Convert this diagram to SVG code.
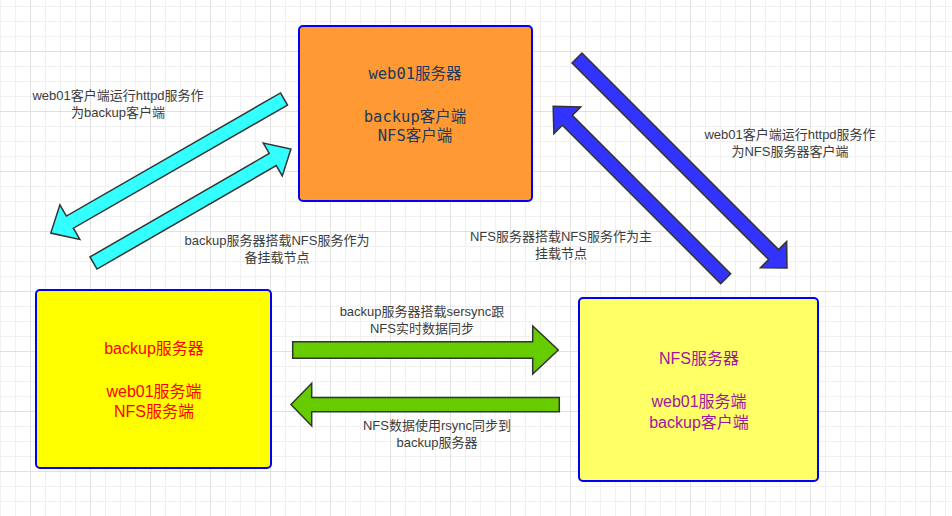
<svg xmlns="http://www.w3.org/2000/svg" width="952" height="516" viewBox="0 0 952 516">
  <style>
    .lbl { font-family: "Liberation Sans", "Noto Sans CJK SC", sans-serif; font-size: 13px; fill: #3c3c3c; text-anchor: middle; }
    .box { stroke: #0000ff; stroke-width: 2; }
    .mono { font-family: "DejaVu Sans Mono", "Noto Sans CJK SC", monospace; font-size: 15.5px; fill: #203a5c; text-anchor: middle; }
    .sans { font-family: "Liberation Sans", "Noto Sans CJK SC", sans-serif; font-size: 16px; text-anchor: middle; }
    .arrow { stroke: #333333; stroke-width: 1.5; stroke-linejoin: miter; }
  </style>
  <defs>
    <pattern id="grid" x="30" y="51" width="60" height="60" patternUnits="userSpaceOnUse">
      <rect x="0" y="0" width="60" height="60" fill="#ffffff"/>
      <rect x="15" y="0" width="1" height="60" fill="#f0f0f0"/>
      <rect x="30" y="0" width="1" height="60" fill="#f0f0f0"/>
      <rect x="45" y="0" width="1" height="60" fill="#f0f0f0"/>
      <rect x="0" y="15" width="60" height="1" fill="#f0f0f0"/>
      <rect x="0" y="30" width="60" height="1" fill="#f0f0f0"/>
      <rect x="0" y="45" width="60" height="1" fill="#f0f0f0"/>
      <rect x="0" y="0" width="1" height="60" fill="#e1e1e1"/>
      <rect x="0" y="0" width="60" height="1" fill="#e1e1e1"/>
    </pattern>
  </defs>
  <rect x="0" y="0" width="952" height="516" fill="url(#grid)"/>

  <g id="connectors">
    <path class="arrow" fill="#33ffff" transform="translate(284,99) rotate(150.1)" d="M0,-7 L247,-7 L247,-20 L269,0 L247,20 L247,7 L0,7 Z"/>
    <path class="arrow" fill="#33ffff" transform="translate(93.5,263) rotate(-30)" d="M0,-7 L207,-7 L207,-19 L228,0 L207,19 L207,7 L0,7 Z"/>
    <path class="arrow" fill="#3333ff" transform="translate(577,58) rotate(45)" d="M0,-7 L278,-7 L278,-18.5 L297,0 L278,18.5 L278,7 L0,7 Z"/>
    <path class="arrow" fill="#3333ff" transform="translate(725.7,278.7) rotate(-135)" d="M0,-7 L224,-7 L224,-19 L244,0 L224,19 L224,7 L0,7 Z"/>
    <path class="arrow" fill="#66cc00" transform="translate(292.7,350)" d="M0,-8.3 L240,-8.3 L240,-24 L265.6,0 L240,24 L240,8.3 L0,8.3 Z"/>
    <path class="arrow" fill="#66cc00" transform="translate(559.3,404.6) rotate(180)" d="M0,-7.2 L247.6,-7.2 L247.6,-21.3 L268.3,0 L247.6,21.3 L247.6,7.2 L0,7.2 Z"/>

    <text class="lbl" x="118" y="100">web01客户端运行httpd服务作<tspan x="118" dy="17">为backup客户端</tspan></text>
    <text class="lbl" x="277" y="245">backup服务器搭载NFS服务作为<tspan x="277" dy="17">备挂载节点</tspan></text>
    <text class="lbl" x="561" y="241">NFS服务器搭载NFS服务作为主<tspan x="561" dy="16.5">挂载节点</tspan></text>
    <text class="lbl" x="790" y="139">web01客户端运行httpd服务作<tspan x="790" dy="17">为NFS服务器客户端</tspan></text>
    <text class="lbl" x="422" y="316">backup服务器搭载sersync跟<tspan x="422" dy="17">NFS实时数据同步</tspan></text>
    <text class="lbl" x="437" y="430">NFS数据使用rsync同步到<tspan x="437" dy="17">backup服务器</tspan></text>
  </g>

  <g id="web01">
    <rect class="box" x="299" y="26" width="233" height="175" rx="4" fill="#ff9933"/>
    <text class="mono" x="415" y="79">web01服务器</text>
    <text class="mono" x="415" y="122">backup客户端<tspan x="415" dy="19">NFS客户端</tspan></text>
  </g>

  <g id="backup">
    <rect class="box" x="36" y="290" width="235" height="178" rx="4" fill="#ffff00"/>
    <text class="sans" x="154" y="354" fill="#ff0000">backup服务器</text>
    <text class="sans" x="154" y="397" fill="#ff0000">web01服务端<tspan x="154" dy="20">NFS服务端</tspan></text>
  </g>

  <g id="nfs">
    <rect class="box" x="579" y="298" width="239" height="183" rx="4" fill="#ffff66"/>
    <text class="sans" x="699" y="364" fill="#a0179f">NFS服务器</text>
    <text class="sans" x="699" y="407" fill="#a0179f">web01服务端<tspan x="699" dy="21">backup客户端</tspan></text>
  </g>
</svg>
